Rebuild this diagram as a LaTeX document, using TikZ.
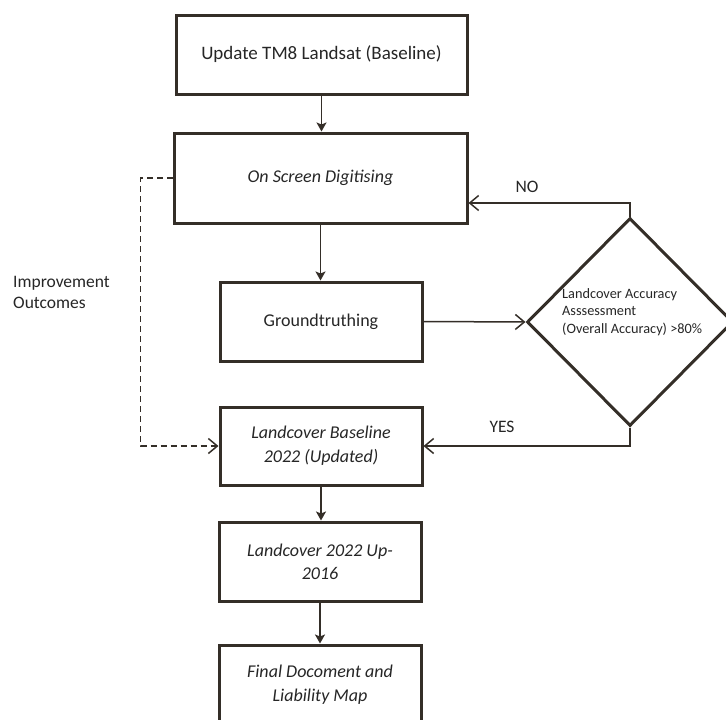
\documentclass[tikz,border=0pt]{standalone}
\usepackage{fontspec}
\setmainfont{Carlito}
\usetikzlibrary{arrows.meta,
                shapes.geometric}
\usetikzlibrary{calc}

\definecolor{ink}{RGB}{52,46,40}
\definecolor{txt}{RGB}{38,38,38}

\tikzset{
    box/.style={draw=ink, line width=3pt, fill=white, text=txt,
        minimum width=202pt, minimum height=79pt, inner sep=0pt,
        align=center, font=\fontsize{18}{24}\selectfont},
    decision/.style={diamond, draw=ink, line width=3pt,
        minimum width=206pt, minimum height=208pt, inner sep=0pt},
    dtext/.style={text=txt, align=left, anchor=west, inner sep=0pt,
        font=\fontsize{14.3}{17.5}\selectfont},
    lbl/.style={text=txt, inner sep=0pt, font=\fontsize{17.5}{21}\selectfont},
    flow/.style={draw=ink, line width=1.5pt, -{Stealth[length=9pt,width=10pt,inset=2pt]}},
    back/.style={draw=ink, line width=1.5pt, -{Straight Barb[length=9pt,width=15pt]}}
}

\begin{document}
\begin{tikzpicture}[x=1pt, y=-1pt]
    % Page size of the picture
    \useasboundingbox (0,0) rectangle (726,720);
    \clip (0,0) rectangle (726,720);

    % The main column of boxes
    \node[box, minimum width=291pt, font=\fontsize{19}{24}\selectfont] (update) at (321.5,54.5) {Update TM8 Landsat (Baseline)};
    \node[box, minimum width=293pt, minimum height=90pt, font=\fontsize{18}{24}\selectfont\itshape] (digit) at (320.5,178) {On Screen Digitising};
    \node[box] (ground) at (321,321.5) {Groundtruthing};
    \node[box, minimum height=78pt, font=\fontsize{18}{24}\selectfont\itshape] (base) at (321,446) {Landcover Baseline\\2022 (Updated)};
    \node[box, font=\fontsize{18}{23}\selectfont\itshape] (upd) at (320,561.5) {Landcover 2022 Up-\\2016};
    \node[box, minimum height=80pt, font=\fontsize{18}{24}\selectfont\itshape] (final) at (320,685) {Final Docoment and\\Liability Map};

    % The accuracy check
    \node[decision] (check) at (630,322) {};
    \node[dtext] (checktext) at ([xshift=-68pt,yshift=10pt]check.center) {Landcover Accuracy\\Asssessment\\(Overall Accuracy) >80\%};

    % Labels of the loops
    \node[lbl] (no) at (527,187) {NO};
    \node[lbl] (yes) at (502,427) {YES};
    \node[lbl, align=left, anchor=west] (improve) at (13,292) {Improvement\\Outcomes};

    % Straight arrows down the column
    \draw[flow] (update.south) -- (update.south |- digit.north);
    \draw[flow] (digit.south) -- (digit.south |- ground.north);
    \draw[flow] (base.south) -- (base.south |- upd.north);
    \draw[flow] (upd.south) -- (upd.south |- final.north);

    % Into and out of the check
    \draw[back] (ground.east) -- (check.west);
    \draw[back] (check.north) |- ([yshift=-25pt]digit.east);
    \draw[back] (check.south) |- (base.east);

    % Dashed feedback on the left
    \draw[back, dash pattern=on 6pt off 4pt] (digit.west) -- ++(-32,0) |- (base.west);
\end{tikzpicture}
\end{document}
